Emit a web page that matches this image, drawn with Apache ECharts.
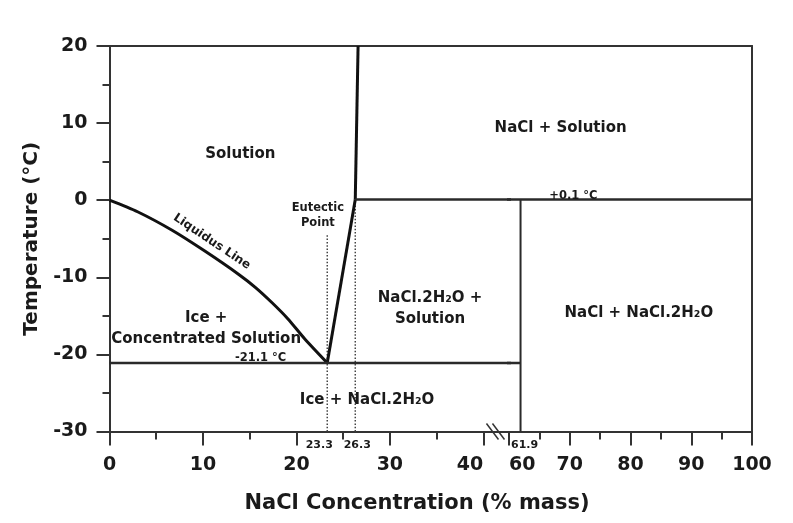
<!DOCTYPE html>
<html>
<head>
<meta charset="utf-8">
<script src="https://cdn.jsdelivr.net/npm/echarts@6/dist/echarts.min.js"></script>
<style>
  html, body { margin: 0; padding: 0; background: #ffffff; }
  #chart { width: 793px; height: 523px; }
</style>
</head>
<body>
<div id="chart"></div>
<script>
// NaCl–H2O phase diagram: composition in % mass NaCl, temperature in °C

// phase boundaries
const liquidusLine = [[0, 0], [3, -1.5], [6.7, -3.9], [10.2, -6.6], [13.8, -9.6],
  [15.6, -11.3], [17.4, -13.3], [19.1, -15.4], [20.9, -18.0], [23.3, -21.1]];
const hydrateSolubility = [[23.3, -21.1], [26.3, 0.1]];
const naclSolubility = [[26.3, 0.1], [26.6, 20]];
const eutecticIsotherm = [[0, -21.1], [61.9, -21.1]];
const peritecticIsotherm = [[26.3, 0.1], [100, 0.1]];
const hydrateLimit = [[61.9, -30], [61.9, 0.1]];
const eutecticGuide = [[23.3, -30], [23.3, -4.5]];
const peritecticGuide = [[26.3, -30], [26.3, 0.1]];

// axes (x axis is broken between 40 and 60)
const lowRange = [0, 42.75];
const highRange = [60, 100];
const tempRange = [-30, 20];
const xMajorLow = [0, 10, 20, 30, 40];
const xMinorLow = [5, 15, 25, 35];
const xMajorHigh = [60, 70, 80, 90, 100];
const xMinorHigh = [65, 75, 85, 95];
const compositionMarks = [23.3, 26.3, 61.9];

// annotation texts and anchor points [x, y]
const regionTextsLow = [
  ['Solution', 14, 6],
  ['Ice +\nConcentrated Solution', 10.34, -16.6],
  ['Ice + NaCl.2H\u2082O', 27.56, -25.9],
  ['NaCl.2H\u2082O +\nSolution', 34.3, -14.1]
];
const regionTextsHigh = [
  ['NaCl + Solution', 68.5, 9.36],
  ['NaCl + NaCl.2H\u2082O', 81.37, -14.67]
];
const smallTextsLow = [
  ['Eutectic\nPoint', 22.3, -2.0],
  ['-21.1 \u00B0C', 16.17, -20.5]
];
const smallTextsHigh = [
  ['+0.1 \u00B0C', 70.6, 0.58]
];
const curveText = ['Liquidus Line', 10.95, -5.38];

const FONT = 'DejaVu Sans';
const INK = '#1a1a1a';
const AXIS = '#333333';

const chart = echarts.init(document.getElementById('chart'), null, { renderer: 'canvas' });

const grids = [
  { left: 109.5, top: 46, width: 399.5, height: 385.5 },
  { left: 509, top: 46, width: 243, height: 385.5 }
];

function mainX(gridIndex, range, ticks, alignKey, alignVal) {
  const label = {
    customValues: ticks, fontSize: 19, fontWeight: 'bold', fontFamily: FONT,
    color: INK, margin: 24
  };
  label[alignKey] = alignVal;
  return {
    type: 'value', gridIndex, min: range[0], max: range[1], position: 'bottom',
    axisLine: { show: true, onZero: false, lineStyle: { color: AXIS, width: 2 } },
    axisTick: { show: true, customValues: ticks, length: 14, lineStyle: { color: AXIS, width: 2 } },
    axisLabel: label,
    splitLine: { show: false }
  };
}
function minorX(gridIndex, range, ticks) {
  return {
    type: 'value', gridIndex, min: range[0], max: range[1], position: 'bottom',
    axisLine: { show: false, onZero: false },
    axisTick: { show: true, customValues: ticks, length: 8, lineStyle: { color: AXIS, width: 2 } },
    axisLabel: { show: false },
    splitLine: { show: false }
  };
}
function frameX(gridIndex, range) {
  return {
    type: 'value', gridIndex, min: range[0], max: range[1], position: 'top',
    axisLine: { show: true, onZero: false, lineStyle: { color: AXIS, width: 2 } },
    axisTick: { show: false }, axisLabel: { show: false }, splitLine: { show: false }
  };
}

const xAxis = [
  mainX(0, lowRange, xMajorLow, 'alignMaxLabel', 'right'),   // 0
  minorX(0, lowRange, xMinorLow),                            // 1
  frameX(0, lowRange),                                       // 2
  mainX(1, highRange, xMajorHigh, 'alignMinLabel', 'left'),  // 3
  minorX(1, highRange, xMinorHigh),                          // 4
  frameX(1, highRange)                                       // 5
];

const yAxis = [
  {
    type: 'value', gridIndex: 0, min: tempRange[0], max: tempRange[1], interval: 10,
    position: 'left',
    name: 'Temperature (\u00B0C)', nameLocation: 'middle', nameGap: 66,
    nameTextStyle: { fontSize: 20, fontWeight: 'bold', fontFamily: FONT, color: INK },
    axisLine: { show: true, onZero: false, lineStyle: { color: AXIS, width: 2 } },
    axisTick: { show: true, length: 13, lineStyle: { color: AXIS, width: 2 } },
    minorTick: { show: true, splitNumber: 2, length: 7, lineStyle: { color: AXIS, width: 2 } },
    axisLabel: { fontSize: 19, fontWeight: 'bold', fontFamily: FONT, color: INK, margin: 22 },
    splitLine: { show: false }, minorSplitLine: { show: false }
  },
  {
    type: 'value', gridIndex: 1, min: tempRange[0], max: tempRange[1], position: 'right',
    axisLine: { show: true, onZero: false, lineStyle: { color: AXIS, width: 2 } },
    axisTick: { show: false }, axisLabel: { show: false }, splitLine: { show: false }
  }
];

function onGrid(g) { return g === 0 ? { xAxisIndex: 0, yAxisIndex: 0 } : { xAxisIndex: 3, yAxisIndex: 1 }; }

function boundary(name, data, g, width, color, dash, smooth) {
  return Object.assign({
    type: 'line', name, data, symbol: 'none', clip: true, silent: true, z: 4,
    smooth: smooth || false,
    lineStyle: { width, color, type: dash || 'solid', cap: 'butt', join: 'round' }
  }, onGrid(g));
}

function textSeries(name, items, g, style) {
  return Object.assign({
    type: 'scatter', name, symbolSize: 0, clip: false, silent: true, z: 6,
    itemStyle: { opacity: 1 },
    data: items.map(t => ({ value: [t[1], t[2]], name: t[0] })),
    label: Object.assign({
      show: true, position: 'inside', formatter: p => p.name, opacity: 1,
      fontFamily: FONT, fontWeight: 'bold', color: INK, align: 'center', verticalAlign: 'middle'
    }, style)
  }, onGrid(g));
}

const markOffsets = { 23.3: -8, 26.3: 2, 61.9: 4 };
function compositionSeries(g, values) {
  return Object.assign({
    type: 'scatter', name: 'composition marks', symbolSize: 0, clip: false, silent: true, z: 6,
    itemStyle: { opacity: 1 },
    data: values.map(v => ({ value: [v, tempRange[0]], label: { offset: [markOffsets[v] || 0, 0] } })),
    label: {
      show: true, position: 'bottom', distance: 8, formatter: p => p.value[0].toFixed(1),
      fontFamily: FONT, fontWeight: 'bold', fontSize: 11, color: INK, opacity: 1
    }
  }, onGrid(g));
}

const regionStyle = { fontSize: 15, lineHeight: 21 };
const smallStyle = { fontSize: 11.5, lineHeight: 15 };

const series = [
  boundary('eutectic guide', eutecticGuide, 0, 1.5, '#444444', [1.5, 1.8]),
  boundary('peritectic guide', peritecticGuide, 0, 1.5, '#444444', [1.5, 1.8]),
  boundary('liquidus', liquidusLine, 0, 3, '#111111', null, 0.25),
  boundary('hydrate solubility', hydrateSolubility, 0, 3, '#111111'),
  boundary('NaCl solubility', naclSolubility, 0, 3, '#111111'),
  boundary('eutectic isotherm', eutecticIsotherm, 0, 2.5, '#2a2a2a'),
  boundary('eutectic isotherm', eutecticIsotherm, 1, 2.5, '#2a2a2a'),
  boundary('peritectic isotherm', peritecticIsotherm, 0, 2.5, '#2a2a2a'),
  boundary('peritectic isotherm', peritecticIsotherm, 1, 2.5, '#2a2a2a'),
  boundary('hydrate limit', hydrateLimit, 1, 2, '#2a2a2a'),
  textSeries('regions', regionTextsLow, 0, regionStyle),
  textSeries('regions', regionTextsHigh, 1, regionStyle),
  textSeries('notes', smallTextsLow, 0, smallStyle),
  textSeries('notes', smallTextsHigh, 1, smallStyle),
  textSeries('curve name', [curveText], 0, { fontSize: 12, rotate: -33.7 }),
  compositionSeries(0, compositionMarks.filter(v => v <= lowRange[1])),
  compositionSeries(1, compositionMarks.filter(v => v >= highRange[0]))
];

chart.setOption({
  animation: false,
  backgroundColor: '#ffffff',
  grid: grids,
  xAxis,
  yAxis,
  series
});

// axis title and break symbol on the composition axis, just past 40 %
const c = chart.convertToPixel({ xAxisIndex: 0, yAxisIndex: 0 }, [41.3, tempRange[0]]);
const breakLines = [-3, 3].map(dx => ({
  type: 'line', z: 10,
  shape: { x1: c[0] + dx - 6, y1: c[1] - 8, x2: c[0] + dx + 6, y2: c[1] + 8 },
  style: { stroke: AXIS, lineWidth: 1.5 }
}));
chart.setOption({
  graphic: [{
    type: 'text', x: 417, y: 504, z: 10,
    style: {
      text: 'NaCl Concentration (% mass)', fontFamily: FONT, fontWeight: 'bold',
      fontSize: 21, fill: INK, align: 'center', verticalAlign: 'middle'
    }
  }].concat(breakLines)
});
</script>
</body>
</html>
